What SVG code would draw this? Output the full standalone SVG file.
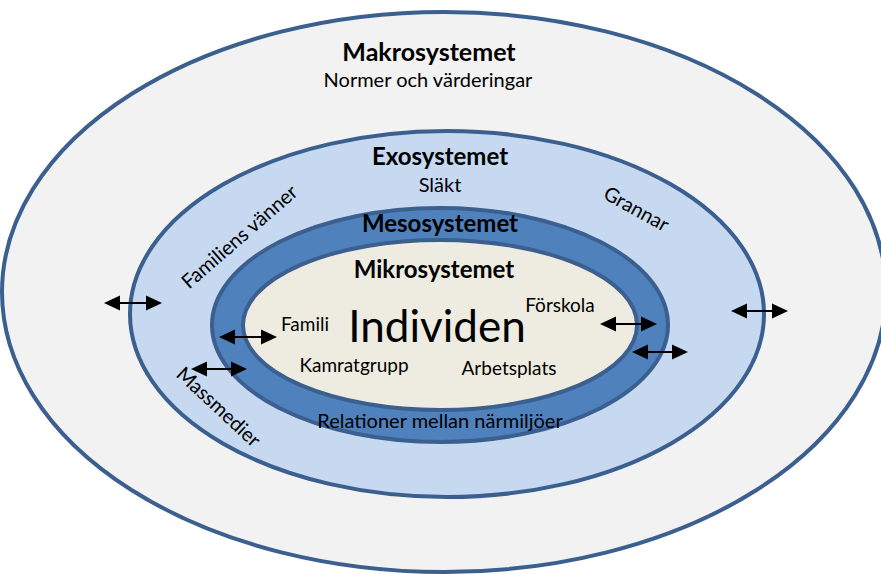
<svg xmlns="http://www.w3.org/2000/svg" width="881" height="574" viewBox="0 0 881 574">
<defs>
<marker id="ah" markerUnits="userSpaceOnUse" markerWidth="16" markerHeight="16" viewBox="0 0 16 16" refX="13" refY="8" orient="auto-start-reverse">
<path d="M0,0.5 L16,8 L0,15.5 z" fill="#000"/>
</marker>
<style>
.ring{stroke:#3b5f8e;stroke-width:4}
.t{font-family:Lato,"Liberation Sans",sans-serif;fill:#000;text-anchor:middle}
.b{font-weight:bold}
.arr{stroke:#000;stroke-width:2;fill:none;marker-start:url(#ah);marker-end:url(#ah)}
</style>
</defs>
<rect width="881" height="574" fill="#fff"/>
<g id="makro">
<ellipse class="ring" cx="444" cy="292" rx="442" ry="280" fill="#f2f2f2"/>
<text class="t b" x="429" y="61" font-size="25">Makrosystemet</text>
<text class="t" x="428" y="87" font-size="20">Normer och värderingar</text>
</g>
<g id="exo">
<ellipse class="ring" cx="447" cy="314" rx="317" ry="183" fill="#c6d9f1"/>
<text class="t b" x="440" y="165" font-size="24">Exosystemet</text>
<text class="t" x="440" y="192" font-size="20">Släkt</text>
<text class="t" x="244" y="242" font-size="20" transform="rotate(-41 244 242)">Familiens vänner</text>
<text class="t" x="633" y="215" font-size="20" transform="rotate(29 633 215)">Grannar</text>
<text class="t" x="214" y="412" font-size="20" transform="rotate(43 214 412)">Massmedier</text>
</g>
<g id="meso">
<ellipse class="ring" cx="440" cy="325" rx="228" ry="117" fill="#4f81bd"/>
<text class="t b" x="440" y="232" font-size="24">Mesosystemet</text>
<text class="t" x="440" y="428" font-size="20">Relationer mellan närmiljöer</text>
</g>
<g id="mikro">
<ellipse class="ring" cx="440" cy="325" rx="197" ry="85" fill="#eeece1"/>
<text class="t b" x="434" y="278" font-size="24">Mikrosystemet</text>
<text class="t" x="437" y="342" font-size="44">Individen</text>
<text class="t" x="305" y="331" font-size="19">Famili</text>
<text class="t" x="560" y="312" font-size="19">Förskola</text>
<text class="t" x="354" y="372" font-size="19">Kamratgrupp</text>
<text class="t" x="509" y="375" font-size="19">Arbetsplats</text>
</g>
<g id="connectors">
<line class="arr" x1="107" y1="303" x2="159" y2="303"/>
<line class="arr" x1="222" y1="337" x2="274" y2="337"/>
<line class="arr" x1="194" y1="369" x2="244" y2="369"/>
<line class="arr" x1="603" y1="324" x2="654" y2="324"/>
<line class="arr" x1="635" y1="352" x2="685" y2="352"/>
<line class="arr" x1="734" y1="311" x2="785" y2="311"/>
</g>
</svg>
